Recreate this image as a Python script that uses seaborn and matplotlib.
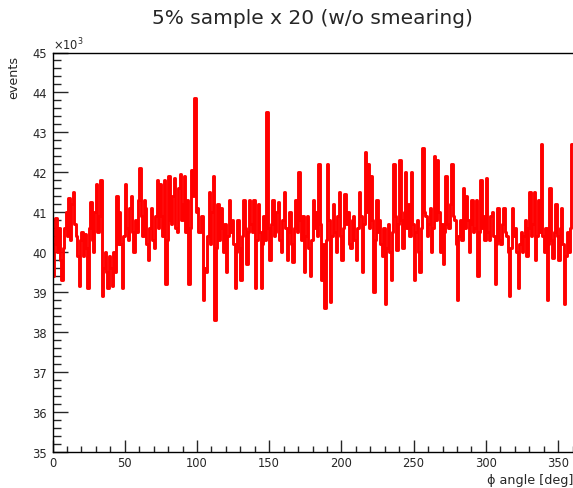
import numpy as np
import pandas as pd
import matplotlib
matplotlib.use("Agg")
import matplotlib.pyplot as plt
from matplotlib.ticker import MultipleLocator
import seaborn as sns

# phi histogram: 1-degree bins from 0 to 360, contents in units of 10^3 events
bin_width = 1
phi_low = 0
phi_high = 360
events_k = [
    39.4, 40.2, 40.85, 40.0, 40.6, 39.8, 39.3, 40.1, 40.6, 41.0,        # 0-9
    40.4, 41.35, 40.3, 41.2, 41.5, 40.7, 40.4, 39.9, 39.15, 40.3,       # 10-19
    40.5, 39.9, 40.45, 40.1, 39.1, 40.6, 41.25, 40.3, 40.0, 41.0,       # 20-29
    41.7, 40.5, 40.9, 41.8, 38.9, 39.6, 40.0, 39.5, 39.1, 39.9,         # 30-39
    39.6, 39.15, 40.0, 39.5, 41.4, 40.2, 41.0, 40.2, 39.1, 40.4,        # 40-49
    41.7, 40.6, 40.3, 41.1, 41.4, 40.5, 40.0, 40.8, 40.5, 41.3,         # 50-59
    42.1, 40.9, 40.4, 41.3, 41.1, 40.2, 39.8, 40.6, 41.1, 40.3,         # 60-69
    40.1, 40.9, 41.8, 40.6, 41.7, 40.9, 40.4, 41.8, 39.2, 40.3,         # 70-79
    41.9, 40.8, 40.7, 41.4, 41.85, 40.6, 40.5, 41.6, 41.95, 40.8,       # 80-89
    41.2, 41.9, 40.5, 41.3, 39.2, 40.6, 42.05, 41.4, 43.85, 41.0,       # 90-99
    41.1, 40.5, 40.5, 40.9, 38.8, 39.6, 39.5, 40.4, 41.5, 40.2,         # 100-109
    41.0, 41.9, 38.3, 40.1, 41.2, 40.3, 41.1, 40.6, 40.0, 40.7,         # 110-119
    39.5, 40.4, 41.3, 40.5, 40.8, 40.2, 39.1, 40.0, 40.8, 40.1,         # 120-129
    39.3, 40.4, 41.3, 40.6, 39.7, 40.5, 41.3, 40.7, 40.5, 41.3,         # 130-139
    39.1, 40.3, 41.2, 40.5, 39.1, 40.2, 40.9, 40.3, 43.5, 40.6,         # 140-149
    39.8, 40.7, 41.3, 40.4, 40.5, 41.0, 41.25, 40.3, 40.0, 40.8,        # 150-159
    41.5, 40.6, 39.8, 40.5, 41.0, 40.2, 39.75, 40.6, 41.3, 40.5,        # 160-169
    42.0, 40.8, 40.3, 40.9, 39.5, 40.4, 40.9, 40.1, 39.4, 40.3,         # 170-179
    41.3, 40.6, 41.0, 40.4, 42.2, 40.7, 39.3, 40.2, 38.6, 40.3,         # 180-189
    42.2, 40.8, 38.75, 40.4, 41.2, 40.5, 40.0, 40.9, 41.5, 40.4,        # 190-199
    39.8, 40.6, 41.45, 40.7, 41.0, 40.2, 40.1, 40.8, 40.9, 40.3,        # 200-209
    39.8, 40.6, 41.5, 40.9, 39.5, 40.7, 42.5, 41.0, 42.2, 40.6,         # 210-219
    41.9, 40.8, 39.0, 40.3, 41.3, 40.5, 40.8, 40.2, 39.9, 40.6,         # 220-229
    38.7, 40.1, 40.7, 40.0, 39.3, 40.5, 42.2, 40.9, 40.05, 40.7,        # 230-239
    42.3, 40.8, 40.1, 41.0, 42.0, 40.6, 41.2, 40.4, 42.0, 40.7,         # 240-249
    39.3, 40.5, 40.8, 40.0, 39.5, 40.6, 42.6, 41.0, 40.9, 40.4,         # 250-259
    40.7, 41.1, 40.0, 40.6, 42.4, 40.8, 42.3, 41.0, 40.0, 40.7,         # 260-269
    39.7, 40.5, 41.9, 40.7, 40.6, 41.2, 42.2, 40.9, 40.8, 40.2,         # 270-279
    38.8, 40.4, 40.8, 40.3, 41.6, 40.6, 41.4, 40.8, 40.0, 40.7,         # 280-289
    41.3, 40.5, 40.6, 41.3, 39.4, 40.5, 41.8, 40.6, 40.9, 40.3,         # 290-299
    41.85, 40.5, 40.3, 40.9, 41.0, 40.4, 39.2, 40.2, 41.1, 40.3,        # 300-309
    40.2, 40.7, 41.1, 40.5, 40.4, 40.0, 38.9, 40.1, 41.1, 40.4,         # 310-319
    40.6, 40.0, 39.1, 40.2, 40.5, 40.0, 40.4, 40.8, 39.9, 40.6,         # 320-329
    41.5, 40.4, 40.7, 41.5, 39.8, 40.4, 41.3, 40.5, 42.7, 40.4,         # 330-339
    40.0, 40.6, 38.8, 40.2, 41.6, 40.3, 39.85, 40.5, 41.2, 40.4,        # 340-349
    39.8, 40.6, 41.1, 40.2, 38.7, 39.9, 40.5, 40.0, 40.6, 42.7,         # 350-359
]

centers = np.arange(phi_low, phi_high, bin_width) + bin_width / 2
df = pd.DataFrame({"phi": centers, "events": events_k})

sns.set_style("white")
plt.rcParams["font.family"] = ["DejaVu Sans"]

W, H = 573, 489
fig = plt.figure(figsize=(W / 100, H / 100), dpi=100)
ax = fig.add_axes([52.5 / W, 1 - 453 / H, 520 / W, 399.5 / H])

sns.histplot(data=df, x="phi", weights="events",
             binwidth=bin_width, binrange=(phi_low, phi_high),
             element="step", fill=False, color="#ff0000",
             linewidth=2.1, ax=ax)

ax.set_xlim(phi_low, phi_high)
ax.set_ylim(35, 45)

ax.xaxis.set_major_locator(MultipleLocator(50))
ax.xaxis.set_minor_locator(MultipleLocator(10))
ax.yaxis.set_major_locator(MultipleLocator(1))
ax.yaxis.set_minor_locator(MultipleLocator(0.2))

ax.tick_params(axis="x", which="major", direction="in", length=9, width=1,
               labelsize=8.3, pad=3, bottom=True, top=False)
ax.tick_params(axis="x", which="minor", direction="in", length=4.6, width=1,
               bottom=True, top=False)
ax.tick_params(axis="y", which="major", direction="in", length=11, width=1,
               labelsize=8.3, pad=4, left=True, right=False)
ax.tick_params(axis="y", which="minor", direction="in", length=5.5, width=1,
               left=True, right=False)

for side in ("left", "bottom", "top"):
    ax.spines[side].set_color("black")
    ax.spines[side].set_linewidth(1)
ax.spines["right"].set_visible(False)

ax.set_xlabel("")
ax.set_ylabel("")

fig.text(312 / W, 1 - 18 / H, "5% sample x 20 (w/o smearing)",
         ha="center", va="center", fontsize=14.5)
fig.text(14 / W, 1 - 56 / H, "events", rotation=90,
         ha="center", va="top", fontsize=9.2)
fig.text(573 / W, 1 - 481 / H, "ϕ angle [deg]",
         ha="right", va="center", fontsize=9.2)
fig.text(53 / W, 1 - 45 / H, r"$\times10^{3}$",
         ha="left", va="center", fontsize=8.3)

fig.savefig("out.png", dpi=100)
